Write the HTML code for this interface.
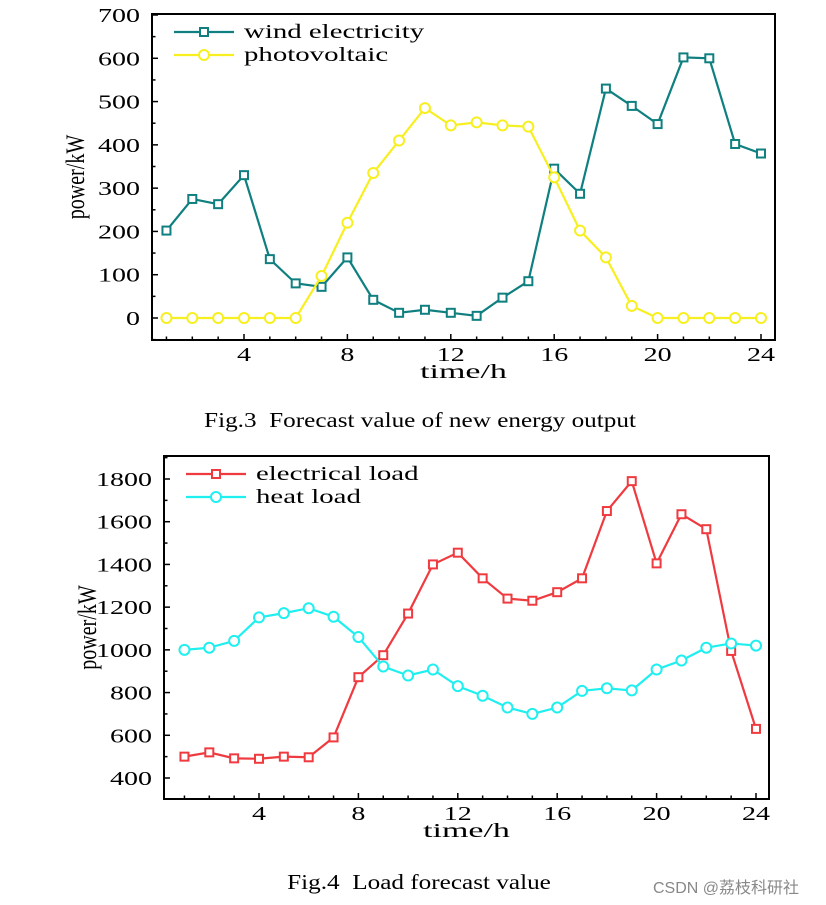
<!DOCTYPE html>
<html><head><meta charset="utf-8"><style>
body{margin:0;background:#fff;width:826px;height:905px;overflow:hidden}
svg{display:block;font-family:"Liberation Serif",serif}
text{white-space:pre}
</style></head><body>
<svg id="s" width="826" height="905"></svg>
<script>
const hours=[1,2,3,4,5,6,7,8,9,10,11,12,13,14,15,16,17,18,19,20,21,22,23,24];
const windVals=[202,275,263,330,136,80,72,140,42,12,19,12,5,47,85,345,287,530,490,448,602,600,402,380];
const pvVals=[0,0,0,0,0,0,97,220,335,410,485,445,452,445,442,325,202,140,28,0,0,0,0,0];
const elecVals=[500,520,492,490,500,497,590,872,975,1170,1400,1455,1335,1240,1230,1270,1335,1650,1790,1405,1635,1565,995,630];
const heatVals=[1000,1010,1042,1152,1172,1195,1155,1060,922,880,908,830,785,730,700,730,808,820,810,908,950,1010,1030,1020];
const xTicks=[4,8,12,16,20,24];
const yTicks1=[0,100,200,300,400,500,600,700];
const yTicks2=[400,600,800,1000,1200,1400,1600,1800];
const NS="http://www.w3.org/2000/svg";
const svg=document.getElementById('s');
function mk(tag,attrs,parent){const e=document.createElementNS(NS,tag);for(const k in attrs)e.setAttribute(k,attrs[k]);(parent||svg).appendChild(e);return e;}
function stext(parent,x,y,s,size,sx,anchor){const t=mk('text',{x:0,y:0,'font-size':size,'text-anchor':anchor||'start',transform:`translate(${x},${y}) scale(${sx},1)`},parent);t.textContent=s;return t;}
function chart(cfg){
  const g=mk('g',{});
  
  
  const xs=h=>cfg.x4+(h-4)*(cfg.x24-cfg.x4)/20;
  const ys=v=>cfg.yA+(v-cfg.vA)*(cfg.yB-cfg.yA)/(cfg.vB-cfg.vA);
  const box=mk('rect',{x:cfg.L,y:cfg.T,width:cfg.R-cfg.L,height:cfg.B-cfg.T,fill:'none',stroke:'#000','stroke-width':2},g);
  
  
  for(const h of hours){const X=xs(h);const big=xTicks.includes(h);mk('line',{x1:X,x2:X,y1:cfg.B,y2:cfg.B-(big?6:3.5),stroke:'#000','stroke-width':1.5},g);}
  for(const t of xTicks){const tx=stext(g,xs(t),cfg.B+21,String(t),20,1.4,'middle');
    
    }
  const step=cfg.yt[1]-cfg.yt[0];
  for(let i=0;i<cfg.yt.length;i++){const v=cfg.yt[i];const Y=ys(v);
    mk('line',{x1:cfg.L,x2:cfg.L+6,y1:Y,y2:Y,stroke:'#000','stroke-width':1.5},g);
    const m=ys(v-step/2);if(m<cfg.B)mk('line',{x1:cfg.L,x2:cfg.L+3.5,y1:m,y2:m,stroke:'#000','stroke-width':1.5},g);
    const tx=stext(g,cfg.L-12,Y+7,String(v),20,1.4,'end');
    
    }
  const mt=ys(cfg.yt[cfg.yt.length-1]+step/2);if(mt>cfg.T)mk('line',{x1:cfg.L,x2:cfg.L+3.5,y1:mt,y2:mt,stroke:'#000','stroke-width':1.5},g);
  const xt=stext(g,(cfg.L+cfg.R)/2,cfg.B+38,'time/h',20,1.7,'middle');
  
  
  const yt=mk('text',{x:0,y:0,'font-size':20,'text-anchor':'middle',transform:`translate(${cfg.L-68},${(cfg.T+cfg.B)/2}) rotate(-90) scale(1,1.3)`},g);yt.textContent='power/kW';
  
  
  cfg.series.forEach((s,si)=>{
    const sg=mk('g',{},g);
    
    
    mk('polyline',{points:s.vals.map((v,i)=>xs(hours[i])+','+ys(v)).join(' '),fill:'none',stroke:s.color,'stroke-width':2.2},sg);
    s.vals.forEach((v,i)=>{const X=xs(hours[i]),Y=ys(v);let m;
      if(s.sq)m=mk('rect',{x:X-4,y:Y-4,width:8,height:8,fill:'#fff',stroke:s.color,'stroke-width':2},sg);
      else m=mk('circle',{cx:X,cy:Y,r:5,fill:'#fff',stroke:s.color,'stroke-width':2},sg);
      
      });
    const ly=cfg.T+18+si*23,lx=cfg.L+22;
    const lg=mk('g',{},g);
    
    
    mk('line',{x1:lx,x2:lx+60,y1:ly,y2:ly,stroke:s.color,'stroke-width':2.2},lg);
    if(s.sq)mk('rect',{x:lx+26,y:ly-4,width:8,height:8,fill:'#fff',stroke:s.color,'stroke-width':2},lg);
    else mk('circle',{cx:lx+30,cy:ly,r:5,fill:'#fff',stroke:s.color,'stroke-width':2},lg);
    stext(lg,lx+70,ly+6,s.label,19.5,1.48);
  });
}
chart({name:'new-energy-chart',L:152,R:775,T:14,B:340,x4:244,x24:761,vA:0,yA:318,vB:700,yB:15,yt:yTicks1,
  series:[{name:'wind',label:'wind electricity',vals:windVals,color:'#0f7f7f',sq:true},
          {name:'photovoltaic',label:'photovoltaic',vals:pvVals,color:'#f7ef1f',sq:false}]});
chart({name:'load-chart',L:164,R:769,T:456,B:799,x4:259,x24:756,vA:400,yA:778,vB:1800,yB:479,yt:yTicks2,
  series:[{name:'electrical-load',label:'electrical load',vals:elecVals,color:'#ef3b3f',sq:true},
          {name:'heat-load',label:'heat load',vals:heatVals,color:'#1fefef',sq:false}]});
function txt(x,y,s,size,sx,name){const t=stext(svg,x,y,s,size,sx,'middle');
  
  return t;}
txt(420,427,'Fig.3  Forecast value of new energy output',21,1.2,'caption-fig3');
txt(419,889,'Fig.4  Load forecast value',21,1.2,'caption-fig4');
const w=mk('text',{x:726,y:893,'font-size':16,'text-anchor':'middle',fill:'#888','font-family':'"Liberation Sans","Noto Sans CJK SC",sans-serif'});
w.textContent='CSDN @荔枝科研社';


</script>
</body></html>
